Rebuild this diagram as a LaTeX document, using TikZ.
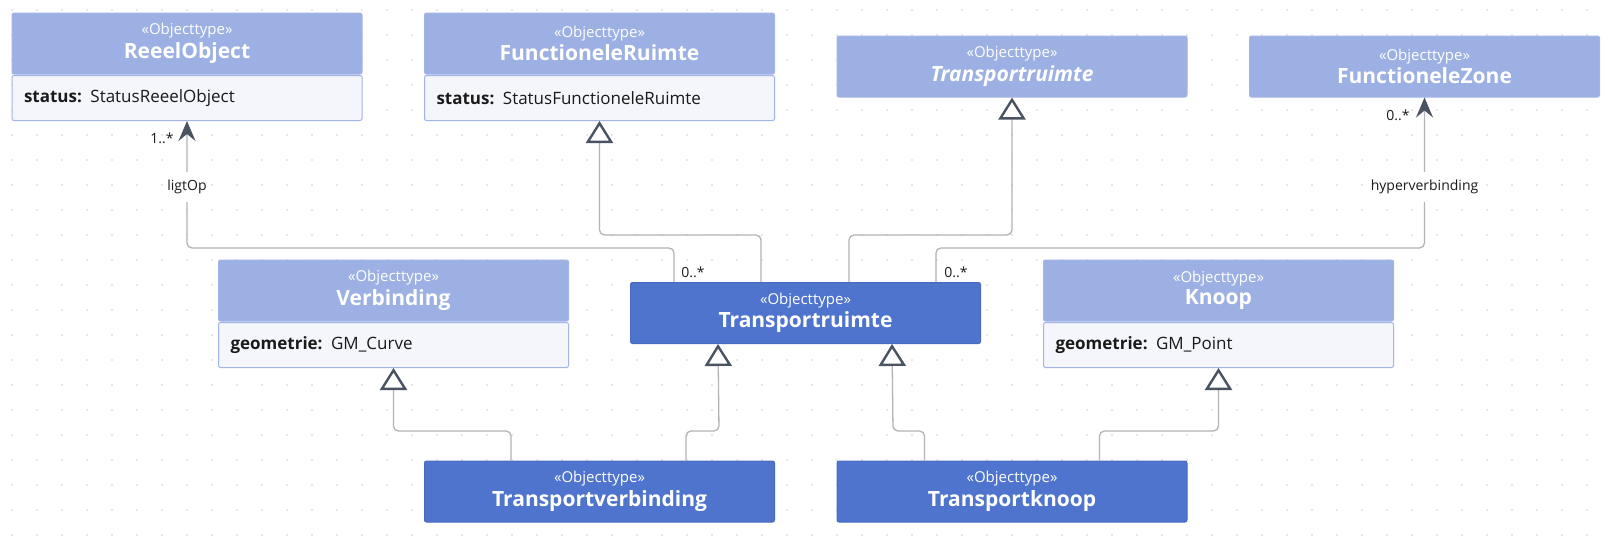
\documentclass[tikz,border=0pt]{standalone}
\usepackage{fontspec}
\setmainfont{Open Sans}
\usetikzlibrary{arrows.meta}
\definecolor{hdrc}{HTML}{9DB0E3}
\definecolor{mainc}{HTML}{4F74CD}
\definecolor{attrc}{HTML}{F5F6FB}
\definecolor{bordc}{HTML}{A3B5E6}
\definecolor{linec}{HTML}{B3B3B8}
\definecolor{tipc}{HTML}{4A5361}
\definecolor{dotc}{HTML}{D0D0D0}
\definecolor{txtc}{HTML}{1A1A1A}
\newcommand{\stereo}{{\fontsize{15}{17}\selectfont «Objecttype»}}
\newcommand{\cls}[1]{{\fontsize{21}{23}\selectfont\bfseries #1}}
\begin{document}
\begin{tikzpicture}[x=1pt,y=-1pt,
  hdr/.style={rectangle, rounded corners=2pt, fill=hdrc, draw=bordc, line width=1pt, minimum width=350pt, minimum height=61pt, inner sep=0pt, text=white, align=center},
  mainbox/.style={hdr, fill=mainc, draw=mainc!92!black},
  attrbox/.style={rectangle, rounded corners=2pt, fill=attrc, draw=bordc, line width=1pt, minimum width=350pt, minimum height=45pt, inner sep=0pt, text width=326pt, align=left, text=txtc, font=\fontsize{17}{19}\selectfont},
  conn/.style={draw=linec, line width=1.3pt, rounded corners=5pt},
  gen/.style={conn, -{Triangle[length=22pt,width=27pt,line width=2.4pt,color=tipc,fill=white]}},
  assoc/.style={conn, -{Stealth[length=20pt,width=17pt,inset=7pt,color=tipc]}},
  lbl/.style={font=\fontsize{14}{16}\selectfont, text=txtc, inner sep=1pt},
  onlbl/.style={lbl, fill=white, inner xsep=3pt, inner ysep=8pt},
]
\useasboundingbox[fill=white] (0,0) rectangle (1603,538);
\foreach \i in {0,...,63}{\foreach \j in {0,...,21}{\fill[dotc] (12+25*\i,10+25*\j) circle (0.85);}}

% boxes
\node[hdr] (ro) at (187,43.5) {\stereo\\[3pt]\cls{ReeelObject}};
\node[attrbox, anchor=north] (roa) at (187,75) {\textbf{status:} StatusReeelObject};
\node[hdr] (fr) at (599.5,43.5) {\stereo\\[3pt]\cls{FunctioneleRuimte}};
\node[attrbox, anchor=north] (fra) at (599.5,75) {\textbf{status:} StatusFunctioneleRuimte};
\node[hdr] (tra) at (1012,66.5) {\stereo\\[3pt]\cls{\itshape Transportruimte}};
\node[hdr] (fz) at (1424.5,66.5) {\stereo\\[3pt]\cls{FunctioneleZone}};
\node[hdr] (v) at (393.5,290.5) {\stereo\\[3pt]\cls{Verbinding}};
\node[attrbox, anchor=north] (va) at (393.5,322) {\textbf{geometrie:} GM\_Curve};
\node[mainbox] (tr) at (805.5,313) {\stereo\\[3pt]\cls{Transportruimte}};
\node[hdr] (k) at (1218.5,290.5) {\stereo\\[3pt]\cls{Knoop}};
\node[attrbox, anchor=north] (ka) at (1218.5,322) {\textbf{geometrie:} GM\_Point};
\node[mainbox] (tv) at (599.5,491.5) {\stereo\\[3pt]\cls{Transportverbinding}};
\node[mainbox] (tk) at (1012,491.5) {\stereo\\[3pt]\cls{Transportknoop}};

% connectors
\draw[assoc] ([xshift=44pt]tr.north west) |- (187,248) -- (roa.south);
\draw[assoc] ([xshift=306pt]tr.north west) |- (1424.5,248) -- (fz.south);
\draw[gen] ([xshift=131pt]tr.north west) |- (599.5,235) -- (fra.south);
\draw[gen] ([xshift=219pt]tr.north west) |- (1012,235) -- (tra.south);
\draw[gen] ([xshift=87pt]tv.north west) |- (393.5,431) -- (va.south);
\draw[gen] ([xshift=262pt]tv.north west) |- (719,431) -- ([xshift=88pt]tr.south west);
\draw[gen] ([xshift=88pt]tk.north west) |- (893,431) -- ([xshift=262pt]tr.south west);
\draw[gen] ([xshift=263pt]tk.north west) |- (1218.5,431) -- (ka.south);

% labels
\node[onlbl] (l1) at (187,187) {ligtOp};
\node[lbl] (m1) at (162,138) {1..*};
\node[lbl] (m2) at (693,272) {0..*};
\node[onlbl] (l2) at (1424.5,187) {hyperverbinding};
\node[lbl] (m3) at (1398,115) {0..*};
\node[lbl] (m4) at (956,272) {0..*};
\end{tikzpicture}
\end{document}
